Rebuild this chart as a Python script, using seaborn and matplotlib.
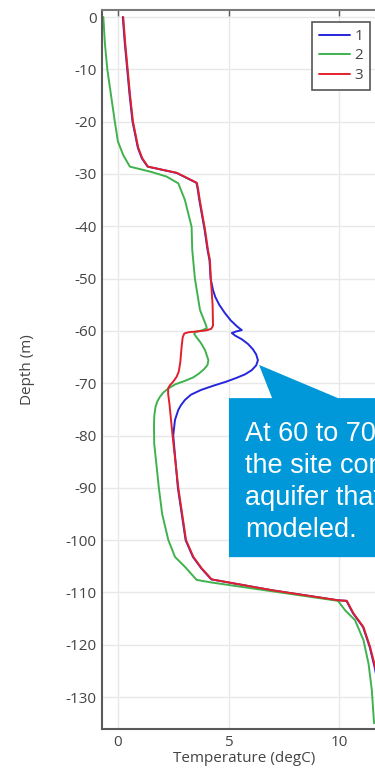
import matplotlib
matplotlib.use("Agg")
import matplotlib.pyplot as plt
import seaborn as sns
import pandas as pd
from matplotlib.patches import Polygon
from matplotlib.lines import Line2D

# ---- data ----
series_names = ["1", "2", "3"]

depth_3 = [0, -5, -10, -15, -20, -25, -27, -28.6, -29.8, -31.7, -33, -35, -40.7, -44.5, -46.5, -50,
           -55, -59.0, -59.6, -59.9, -60.1, -60.25, -60.5, -61.2, -63, -66, -67.8, -68.8, -69.7,
           -70.4, -71, -72, -74, -80,
           -90, -100, -103.2, -105.4, -107.5, -109.6, -111.5, -111.6, -114, -116.6, -120.4,
           -124.2, -128, -132, -136]
temp_3 = [0.24, 0.33, 0.44, 0.55, 0.68, 0.92, 1.1, 1.36, 2.67, 3.57, 3.63, 3.7, 3.94, 4.07, 4.16, 4.2,
          4.28, 4.3, 4.22, 4.0, 3.6, 3.2, 3.0, 2.93, 2.88, 2.82, 2.75, 2.65, 2.5,
          2.35, 2.27, 2.27, 2.33, 2.47,
          2.73, 3.08, 3.41, 3.79, 4.24, 7.0, 9.97, 10.35, 10.65, 11.1, 11.4,
          11.63, 11.8, 11.95, 12.05]

depth_1 = [0, -5, -10, -15, -20, -25, -27, -28.6, -29.8, -31.7, -33, -35, -40.7, -44.5, -46.5, -50,
           -52.2, -53.5, -55, -56.5, -58, -59.2, -59.85, -60.1, -60.4, -60.9, -61.6, -62.5, -63.5,
           -64.5, -65.6, -66.6, -67.5, -68.3, -69.0, -69.7, -70.5, -71.3, -72.2, -73.2, -74.2,
           -75.1, -77, -80,
           -90, -100, -103.2, -105.4, -107.5, -109.6, -111.5, -111.6, -114, -116.6, -120.4,
           -124.2, -128, -132, -136]
temp_1 = [0.22, 0.31, 0.42, 0.53, 0.66, 0.9, 1.08, 1.34, 2.65, 3.55, 3.61, 3.68, 3.92, 4.05, 4.14, 4.19,
          4.3, 4.4, 4.58, 4.82, 5.1, 5.4, 5.6, 5.35, 5.15, 5.3, 5.6, 5.88, 6.1,
          6.25, 6.33, 6.25, 6.05, 5.75, 5.35, 4.9, 4.3, 3.75, 3.3, 3.03, 2.85,
          2.73, 2.58, 2.5,
          2.71, 3.06, 3.39, 3.77, 4.22, 7.0, 9.95, 10.33, 10.63, 11.08, 11.38,
          11.6, 11.78, 11.93, 12.03]

depth_2 = [0, -5, -10, -15.9, -20, -23.8, -26.4, -28.6, -29.6, -30.5, -31.8, -35, -40.1, -44.5, -50,
           -56, -58.9, -59.5, -59.9, -60.2, -60.6, -61.2, -62.3, -63.7, -65.6, -66.5, -67.3, -68.2,
           -68.9, -69.6, -70.2, -71, -71.8, -72.6, -73.5, -74.5, -76, -77.7, -81.5,
           -90, -95, -100, -103.2, -105.1, -107.6, -108.1, -111.6, -113.4, -115.3,
           -119.1, -123.6, -128.7, -135]
temp_2 = [-0.66, -0.59, -0.48, -0.28, -0.14, 0.0, 0.24, 0.54, 1.5, 2.2, 2.73, 3.03, 3.33, 3.36, 3.48,
          3.71, 3.98, 4.02, 3.8, 3.5, 3.45, 3.55, 3.75, 3.94, 4.09, 4.05, 3.9, 3.65,
          3.4, 3.0, 2.6, 2.28, 2.05, 1.9, 1.78, 1.7, 1.65, 1.63, 1.64,
          1.85, 2.0, 2.28, 2.58, 3.03, 3.56, 4.24, 9.95, 10.27, 10.72,
          11.1, 11.33, 11.48, 11.58]

x_ticks = [0, 5, 10]
y_ticks = [0, -10, -20, -30, -40, -50, -60, -70, -80, -90, -100, -110, -120, -130]
x_label = "Temperature (degC)"
y_label = "Depth (m)"
note_text = "At 60 to 70 m depth,\nthe site contains an\naquifer that is not\nmodeled."

frames = []
for name, d, t in [("1", depth_1, temp_1), ("2", depth_2, temp_2), ("3", depth_3, temp_3)]:
    frames.append(pd.DataFrame({"Depth": d, "Temp": t, "series": name}))
df = pd.concat(frames, ignore_index=True)

# ---- style ----
sns.set_style("white")
plt.rcParams["font.family"] = ["Open Sans", "DejaVu Sans"]
plt.rcParams["axes.unicode_minus"] = False

fig = plt.figure(figsize=(3.75, 7.68), dpi=100)
ax_left = 102 / 375
ax_right = 386 / 375
ax_top = 1 - 10 / 768
ax_bottom = 1 - 729 / 768
ax = fig.add_axes([ax_left, ax_bottom, ax_right - ax_left, ax_top - ax_bottom])

palette = {"1": "#2626dc", "2": "#3fb24e", "3": "#e3202a"}
sns.lineplot(data=df, x="Temp", y="Depth", hue="series", hue_order=series_names,
             palette=palette, sort=False, estimator=None, orient="y", units="series",
             linewidth=1.4, ax=ax, legend=False)

ax.set_xlim(-0.72, 12.12)
ax.set_ylim(-136.1, 1.34)
ax.set_xticks(x_ticks)
ax.set_yticks(y_ticks)
ax.grid(True, color="#e8e8e8", linewidth=1.0)
ax.set_axisbelow(True)

for s in ["left", "bottom"]:
    ax.spines[s].set_color("#5a5a5a")
    ax.spines[s].set_linewidth(1.5)
ax.spines["top"].set_color("#7a7a7a")
ax.spines["top"].set_linewidth(1.5)
ax.spines["right"].set_visible(False)

ax.tick_params(axis="both", direction="in", length=4, width=1, color="#5a5a5a",
               labelsize=11, labelcolor="#444444", pad=4)
ax.tick_params(axis="x", top=True, labeltop=False)
ax.set_xlabel(x_label, fontsize=11, color="#444444", labelpad=1)
ax.set_ylabel(y_label, fontsize=11, color="#444444", labelpad=22)

# legend
handles = [Line2D([], [], color=palette[n], lw=1.4) for n in series_names]
leg = fig.legend(handles, series_names, loc="upper right",
                 bbox_to_anchor=(370 / 375, 1 - 22 / 768), bbox_transform=fig.transFigure,
                 borderaxespad=0, fancybox=False, framealpha=1, edgecolor="#555555",
                 fontsize=11, handlelength=2.0, handletextpad=0.3, labelspacing=0.3,
                 borderpad=0.45)
leg.get_frame().set_linewidth(1.2)
for txt in leg.get_texts():
    txt.set_color("#444444")

# callout box (annotation)
box_color = "#0098d8"
bx0, bx1 = 5.02, 14
by0, by1 = -103.25, -72.85
tip = (6.38, -66.5)
poly = Polygon([(bx0, by1), (6.97, by1), tip, (9.95, by1), (bx1, by1), (bx1, by0), (bx0, by0)],
               closed=True, facecolor=box_color, edgecolor="none", zorder=5)
ax.add_patch(poly)
fig.text(245 / 375, 1 - 421 / 768, note_text, color="white", fontsize=19.5,
         family=["Liberation Sans", "DejaVu Sans"], va="top", ha="left", linespacing=1.3,
         zorder=6)

fig.savefig("out.png", dpi=100)
